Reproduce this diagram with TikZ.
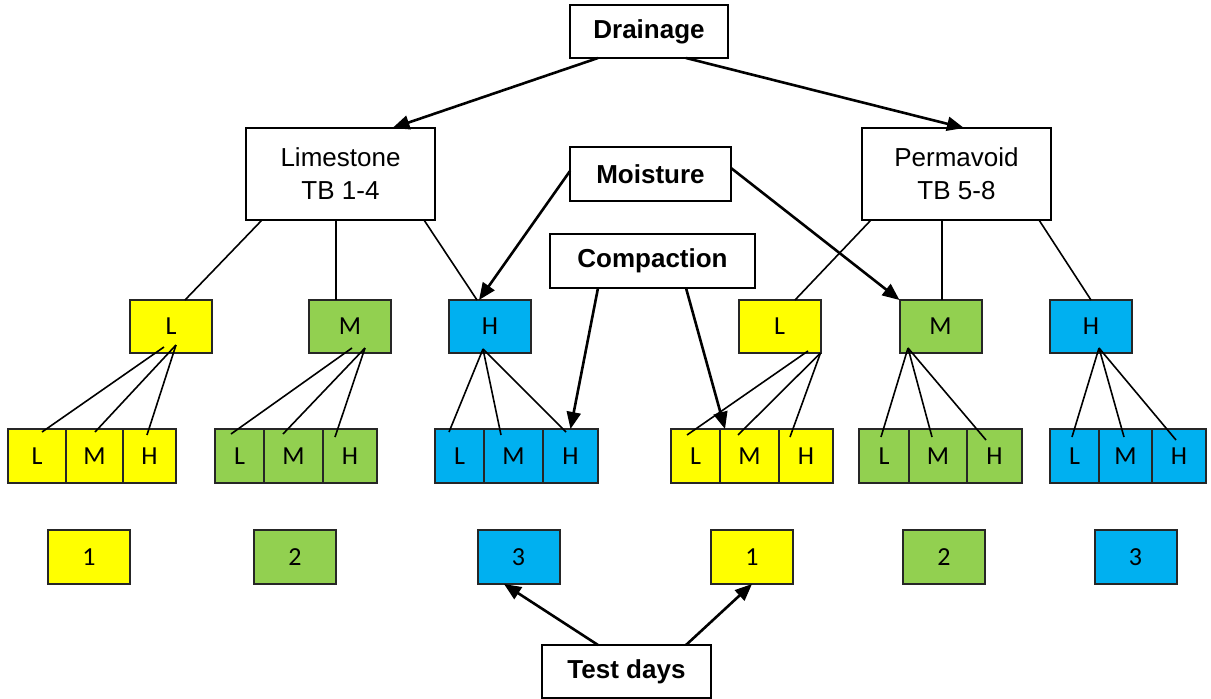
\documentclass[tikz,border=0pt]{standalone}
\usepackage{fontspec}
\setmainfont{Liberation Sans}
\newfontfamily\calibfont{Carlito}
\usetikzlibrary{arrows.meta,calc}
\definecolor{cyel}{HTML}{FFFF00}
\definecolor{cgrn}{HTML}{92D050}
\definecolor{cblu}{HTML}{00B0F0}
\tikzset{
  box/.style={draw=black, line width=2pt, inner sep=0pt, outer sep=0pt, fill=white,
    font=\fontsize{26}{33}\selectfont, align=center},
  hbox/.style={box, font=\fontsize{26}{33}\selectfont\bfseries},
  cell/.style={draw=black!85, line width=2pt, inner sep=0pt, outer sep=0pt,
    font=\calibfont\fontsize{26}{30}\selectfont},
  ycell/.style={cell, fill=cyel},
  gcell/.style={cell, fill=cgrn},
  bcell/.style={cell, fill=cblu},
  arr/.style={line width=2.6pt, -{Triangle[length=17pt,width=14pt]}},
  thin/.style={line width=1.6pt},
}
\begin{document}
\begin{tikzpicture}[x=1pt,y=-1pt]
\useasboundingbox (0,0) rectangle (1211,699);
% top boxes
\node[hbox, minimum width=158pt, minimum height=53pt] (drain) at (649,31.5) {Drainage};
\node[box, minimum width=189pt, minimum height=92pt] (lime) at (340.5,174) {Limestone\\TB 1-4};
\node[box, minimum width=189pt, minimum height=92pt] (perm) at (956.5,174) {Permavoid\\TB 5-8};
\node[hbox, minimum width=161pt, minimum height=54pt] (moist) at (650.5,174) {Moisture};
\node[hbox, minimum width=205pt, minimum height=54pt] (comp) at (652.5,261) {Compaction};
\node[hbox, minimum width=169pt, minimum height=53pt] (test) at (626.5,671.5) {Test days};
% middle row
\node[ycell, minimum width=82pt, minimum height=53pt] (L1) at (171,326.5) {L};
\node[gcell, minimum width=82pt, minimum height=53pt] (M1) at (350,326.5) {M};
\node[bcell, minimum width=82pt, minimum height=53pt] (H1) at (490,326.5) {H};
\node[ycell, minimum width=82pt, minimum height=53pt] (L2) at (779.5,326.5) {L};
\node[gcell, minimum width=82pt, minimum height=53pt] (M2) at (940.5,326.5) {M};
\node[bcell, minimum width=82pt, minimum height=53pt] (H2) at (1091,326.5) {H};
% bottom row
\node[ycell, minimum width=58pt, minimum height=54pt] (aL) at (37,456) {L};
\node[ycell, minimum width=57pt, minimum height=54pt] (aM) at (94.5,456) {M};
\node[ycell, minimum width=53pt, minimum height=54pt] (aH) at (149.5,456) {H};
\node[gcell, minimum width=49pt, minimum height=54pt] (bL) at (239.5,456) {L};
\node[gcell, minimum width=59pt, minimum height=54pt] (bM) at (293.5,456) {M};
\node[gcell, minimum width=54pt, minimum height=54pt] (bH) at (350,456) {H};
\node[bcell, minimum width=49pt, minimum height=54pt] (cL) at (459.5,456) {L};
\node[bcell, minimum width=59pt, minimum height=54pt] (cM) at (513.5,456) {M};
\node[bcell, minimum width=55pt, minimum height=54pt] (cH) at (570.5,456) {H};
\node[ycell, minimum width=49pt, minimum height=54pt] (dL) at (695.5,456) {L};
\node[ycell, minimum width=59pt, minimum height=54pt] (dM) at (749.5,456) {M};
\node[ycell, minimum width=54pt, minimum height=54pt] (dH) at (806,456) {H};
\node[gcell, minimum width=50pt, minimum height=54pt] (eL) at (884,456) {L};
\node[gcell, minimum width=58pt, minimum height=54pt] (eM) at (938,456) {M};
\node[gcell, minimum width=55pt, minimum height=54pt] (eH) at (994.5,456) {H};
\node[bcell, minimum width=49pt, minimum height=54pt] (fL) at (1074.5,456) {L};
\node[bcell, minimum width=53pt, minimum height=54pt] (fM) at (1125.5,456) {M};
\node[bcell, minimum width=54pt, minimum height=54pt] (fH) at (1179,456) {H};
% day boxes
\node[ycell, minimum width=82pt, minimum height=54pt] (d1) at (89,557) {1};
\node[gcell, minimum width=82pt, minimum height=54pt] (d2) at (295,557) {2};
\node[bcell, minimum width=82pt, minimum height=54pt] (d3) at (518.5,557) {3};
\node[ycell, minimum width=82pt, minimum height=54pt] (d1b) at (752,557) {1};
\node[gcell, minimum width=82pt, minimum height=54pt] (d2b) at (944,557) {2};
\node[bcell, minimum width=82pt, minimum height=54pt] (d3b) at (1135.5,557) {3};
% thin tree lines
\draw[thin] ($(lime.south)+(-78.5,0)$) -- ($(L1.north)+(14,0)$);
\draw[thin] ($(lime.south)+(-4.5,0)$) -- ($(M1.north)+(-14,0)$);
\draw[thin] ($(lime.south)+(83.5,0)$) -- ($(H1.north)+(-13,0)$);
\draw[thin] ($(perm.south)+(-85.5,0)$) -- ($(L2.north)+(15.5,0)$);
\draw[thin] ($(perm.south)+(-14.5,0)$) -- ($(M2.north)+(1.5,0)$);
\draw[thin] ($(perm.south)+(82.5,0)$) -- (H2.north);
% mid to bottom
\draw[thin] ($(L1.south)+(-7,-6)$) -- ($(aL.north)+(5,3)$);
\draw[thin] ($(L1.south)+(5,-8)$) -- ($(aM.north)+(0.5,3)$);
\draw[thin] ($(L1.south)+(5,-8)$) -- ($(aH.north)+(-2.5,6)$);
\draw[thin] ($(M1.south)+(2,-5)$) -- ($(bL.north)+(-8.5,5)$);
\draw[thin] ($(M1.south)+(15,-5)$) -- ($(bM.north)+(-10.5,5)$);
\draw[thin] ($(M1.south)+(15,-5)$) -- ($(bH.north)+(-15,8)$);
\draw[thin] ($(H1.south)+(-7,-4)$) -- ($(cL.north)+(-10.5,3)$);
\draw[thin] ($(H1.south)+(-7,-4)$) -- ($(cM.north)+(-12.5,6)$);
\draw[thin] ($(H1.south)+(-7,-4)$) -- ($(cH.north)+(-4.5,3)$);
\draw[thin] ($(L2.south)+(28.5,-2)$) -- ($(dL.north)+(-8.5,6)$);
\draw[thin] (L2.south east) -- ($(dM.north)+(-11.5,6)$);
\draw[thin] (L2.south east) -- ($(dH.north)+(-16,8)$);
\draw[thin] ($(M2.south)+(-32.5,-5)$) -- ($(eL.north)+(-3,8)$);
\draw[thin] ($(M2.south)+(-32.5,-5)$) -- ($(eM.north)+(-6,8)$);
\draw[thin] ($(M2.south)+(-32.5,-5)$) -- ($(eH.north)+(-8.5,11)$);
\draw[thin] ($(H2.south)+(8,-5)$) -- ($(fL.north)+(-2.5,8)$);
\draw[thin] ($(H2.south)+(8,-5)$) -- ($(fM.north)+(-1.5,8)$);
\draw[thin] ($(H2.south)+(8,-5)$) -- ($(fH.north)+(-3,11)$);
% thick arrows
\draw[arr] ($(drain.south)+(-51,0)$) -- ($(lime.north)+(52,0)$);
\draw[arr] ($(drain.south)+(37,0)$) -- ($(perm.north)+(7.5,0)$);
\draw[arr] ($(moist.west)+(0,-3)$) -- ($(H1.north)+(-11,0)$);
\draw[arr] ($(moist.east)+(0,-6)$) -- (M2.north west);
\draw[arr] ($(comp.south)+(-54.5,0)$) -- (cH.north);
\draw[arr] ($(comp.south)+(33.5,0)$) -- ($(dM.north)+(-24.5,0)$);
\draw[arr] ($(test.north)+(-28.5,0)$) -- ($(d3.south)+(-14.5,0)$);
\draw[arr] ($(test.north)+(59.5,0)$) -- (d1b.south);
\end{tikzpicture}
\end{document}
